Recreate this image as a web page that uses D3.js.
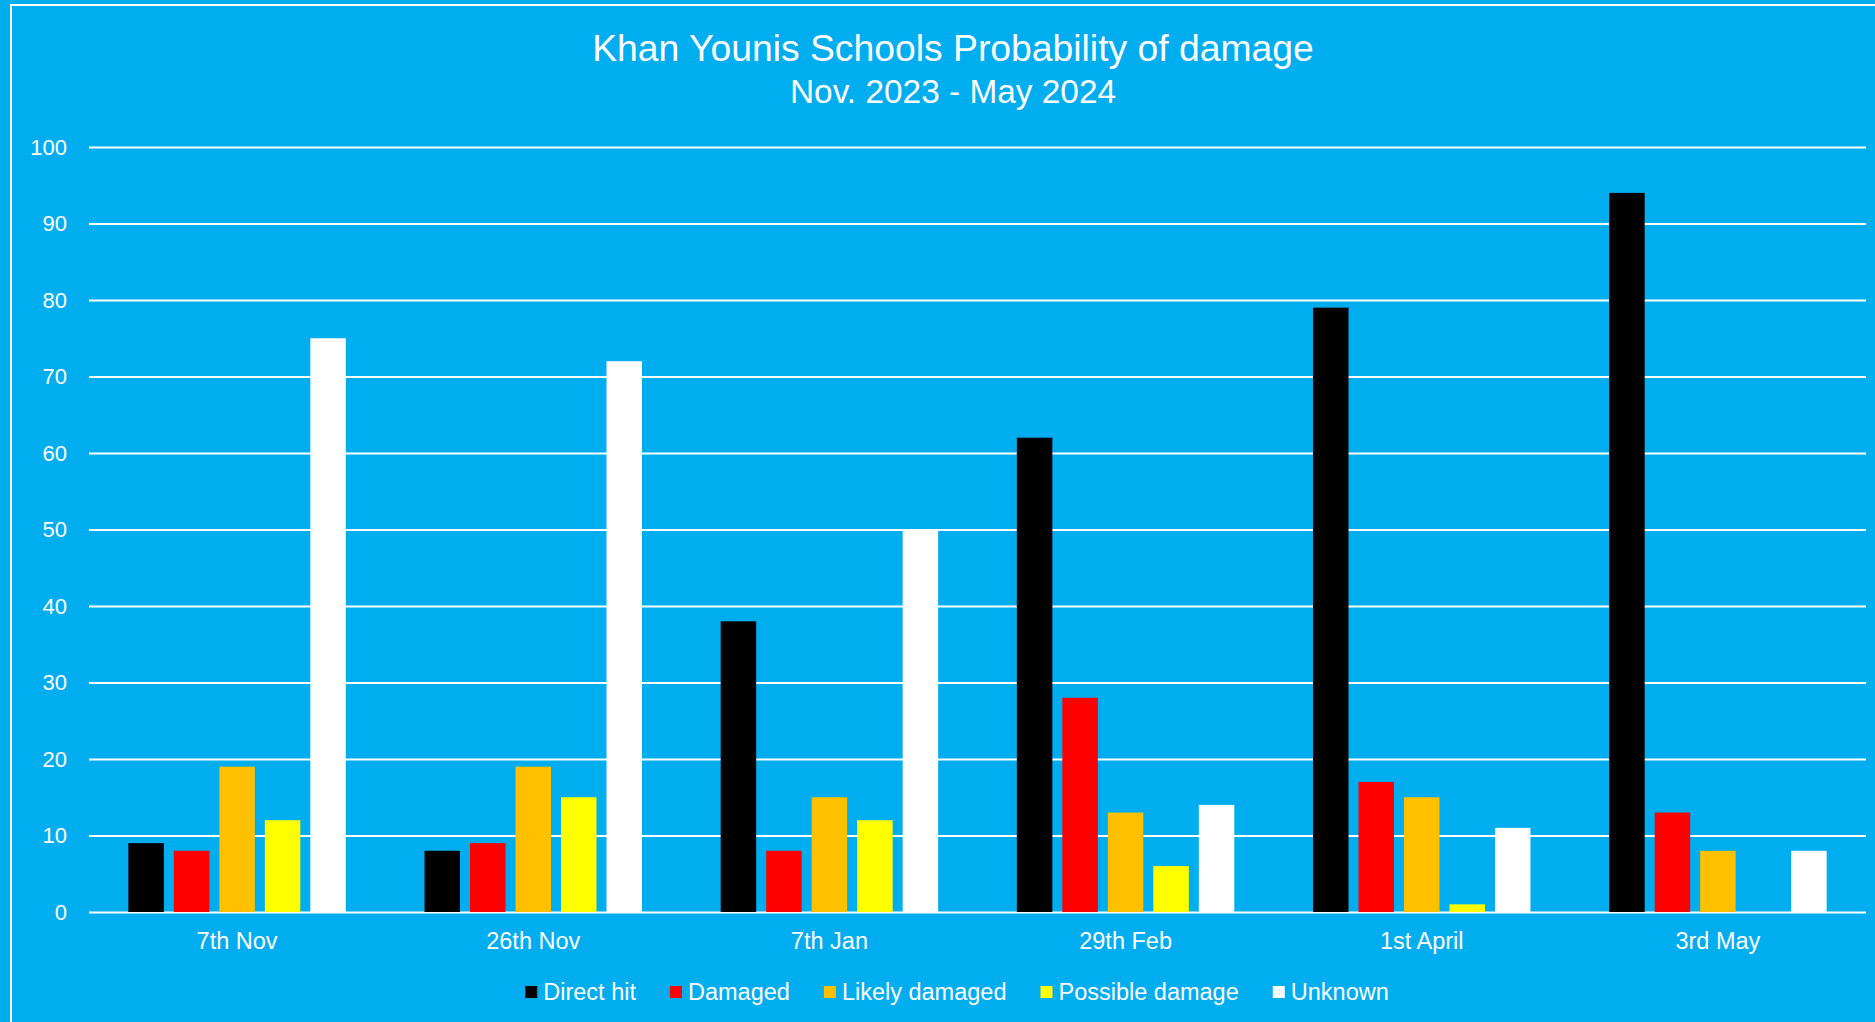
<!DOCTYPE html>
<html>
<head>
<meta charset="utf-8">
<script src="https://cdn.jsdelivr.net/npm/d3@7"></script>
<style>
  body { margin: 0; background: #00adef; }
  text { font-family: "Liberation Sans", Arial, sans-serif; fill: #fff; }
</style>
</head>
<body>
<svg id="chart"></svg>
<script>
const categories = ["7th Nov", "26th Nov", "7th Jan", "29th Feb", "1st April", "3rd May"];
const seriesNames = ["Direct hit", "Damaged", "Likely damaged", "Possible damage", "Unknown"];
const directHit = [9, 8, 38, 62, 79, 94];
const damaged = [8, 9, 8, 28, 17, 13];
const likelyDamaged = [19, 19, 15, 13, 15, 8];
const possibleDamage = [12, 15, 12, 6, 1, 0];
const unknown = [75, 72, 50, 14, 11, 8];
const yTicks = [0, 10, 20, 30, 40, 50, 60, 70, 80, 90, 100];
const colors = ["#000000", "#ff0000", "#ffc000", "#ffff00", "#ffffff"];

const seriesValues = [directHit, damaged, likelyDamaged, possibleDamage, unknown];
const data = categories.map((c, i) => ({
  cat: c,
  values: seriesNames.map((s, j) => ({ key: s, value: seriesValues[j][i] }))
}));

const width = 1875;
const height = 1022;
const margin = { top: 147, right: 9, bottom: 110, left: 89 };

const svg = d3.select("#chart").attr("width", width).attr("height", height);

svg.append("rect")
  .attr("width", width).attr("height", height)
  .attr("fill", "#00adef");

// white frame (only top/left visible, rest cropped off)
svg.append("rect")
  .attr("x", 11).attr("y", 5)
  .attr("width", width + 20).attr("height", height + 20)
  .attr("fill", "none")
  .attr("stroke", "#fff")
  .attr("stroke-width", 2);

const x0 = d3.scaleBand()
  .domain(categories)
  .range([margin.left, width - margin.right])
  .padding(0);

const x1 = d3.scaleBand()
  .domain(seriesNames)
  .range([0, x0.bandwidth()])
  .paddingInner(0.22)
  .paddingOuter(0.865);

const y = d3.scaleLinear()
  .domain([0, 100])
  .range([height - margin.bottom, margin.top]);

const color = d3.scaleOrdinal().domain(seriesNames).range(colors);

// gridlines + y labels
const yAxis = svg.append("g")
  .attr("transform", `translate(${margin.left},0)`)
  .call(d3.axisLeft(y).tickValues(yTicks).tickSize(-(width - margin.left - margin.right)).tickPadding(22));
yAxis.select(".domain").remove();
yAxis.selectAll("line").attr("stroke", "#fff").attr("stroke-width", 2);
yAxis.selectAll("text")
  .style("font-size", "22px")
  .style("font-family", "'Liberation Sans', Arial, sans-serif")
  .attr("fill", "#fff");

// bars
svg.append("g")
  .selectAll("g")
  .data(data)
  .join("g")
  .attr("transform", (d) => `translate(${x0(d.cat)},0)`)
  .selectAll("rect")
  .data((d) => d.values)
  .join("rect")
  .attr("x", (d) => x1(d.key))
  .attr("y", (d) => y(d.value))
  .attr("width", x1.bandwidth())
  .attr("height", (d) => y(0) - y(d.value))
  .attr("fill", (d) => color(d.key));

// x labels
const xAxis = svg.append("g")
  .attr("transform", `translate(0,${height - margin.bottom})`)
  .call(d3.axisBottom(x0).tickSize(0).tickPadding(0));
xAxis.select(".domain").remove();
xAxis.selectAll("text")
  .attr("dy", null)
  .attr("y", 37)
  .style("font-size", "23.5px")
  .style("font-family", "'Liberation Sans', Arial, sans-serif")
  .attr("fill", "#fff");

// titles
svg.append("text")
  .attr("x", 953).attr("y", 61)
  .attr("text-anchor", "middle")
  .style("font-size", "37.3px")
  .text("Khan Younis Schools Probability of damage");

svg.append("text")
  .attr("x", 953).attr("y", 103)
  .attr("text-anchor", "middle")
  .style("font-size", "33.4px")
  .text("Nov. 2023 - May 2024");

// legend
const legend = svg.append("g");
let lx = 0;
seriesNames.forEach((s) => {
  const item = legend.append("g").attr("transform", `translate(${lx},0)`);
  item.append("rect")
    .attr("x", 0).attr("y", -14)
    .attr("width", 12).attr("height", 12)
    .attr("fill", color(s));
  const t = item.append("text")
    .attr("x", 18).attr("y", 0)
    .style("font-size", "23.5px")
    .text(s);
  lx += 18 + t.node().getComputedTextLength() + 34;
});
const legendW = lx - 34;
legend.attr("transform", `translate(${957 - legendW / 2},1000)`);
</script>
</body>
</html>
